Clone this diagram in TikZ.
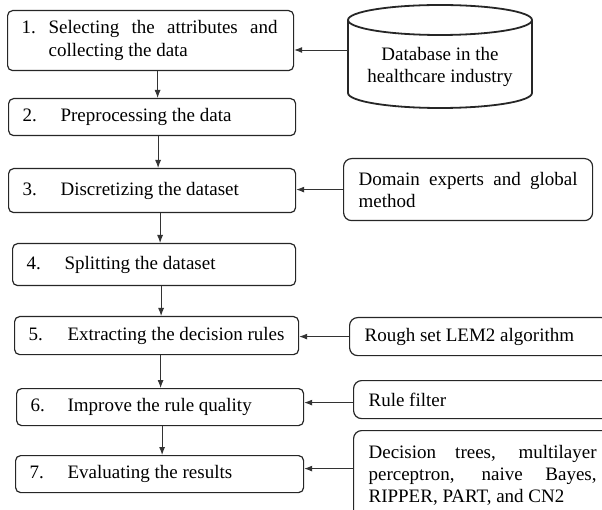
\documentclass[tikz,border=0pt]{standalone}
\usepackage{fontspec}
\setmainfont{Liberation Serif}
\usetikzlibrary{arrows.meta}

\begin{document}
\begin{tikzpicture}[x=1pt, y=-1pt,
  txt/.style={font=\fontsize{19}{22}\selectfont},
  stepbox/.style={txt, draw=black!85, line width=1.2pt, rounded corners=5pt,
    inner xsep=14pt, inner ysep=0pt, anchor=north west, align=justify},
  sidebox/.style={stepbox, rounded corners=8pt, inner xsep=15pt},
  arr/.style={draw=black!80, line width=0.9pt, -{Latex[length=8pt,width=6pt]}},
]
\clip (0,0) rectangle (602,510);

% process steps
\node[stepbox, text width=258pt, minimum width=286pt, minimum height=60pt] (b1) at (7,10)
  {\makebox[27pt][l]{1.}\parbox[t]{229pt}{\fontsize{19}{23}\selectfont
    Selecting the attributes and\linebreak collecting the data}};
\node[stepbox, text width=259pt, minimum width=287pt, minimum height=37pt] (b2) at (8,98)
  {\makebox[38pt][l]{2.}Preprocessing the data};
\node[stepbox, text width=259pt, minimum width=287pt, minimum height=44pt] (b3) at (8,168)
  {\makebox[38pt][l]{3.}Discretizing the dataset};
\node[stepbox, text width=255pt, minimum width=283pt, minimum height=42pt] (b4) at (12,243)
  {\makebox[38pt][l]{4.}Splitting the dataset};
\node[stepbox, text width=256pt, minimum width=284pt, minimum height=38pt] (b5) at (14,316)
  {\makebox[39pt][l]{5.}Extracting the decision rules};
\node[stepbox, text width=259pt, minimum width=287pt, minimum height=37pt] (b6) at (16,388)
  {\makebox[37pt][l]{6.}Improve the rule quality};
\node[stepbox, text width=260pt, minimum width=288pt, minimum height=37pt] (b7) at (15,455)
  {\makebox[38pt][l]{7.}Evaluating the results};

% database cylinder
\draw[black!85, line width=1.8pt]
  (440,20) ellipse [x radius=92pt, y radius=15pt]
  (348,20) -- (348,93) arc [start angle=180, end angle=360, x radius=92pt, y radius=15pt]
  -- (532,20);
\node[txt, align=center, minimum width=184pt] (db) at (440,67)
  {Database in the\\healthcare industry};

% inputs on the right
\node[sidebox, text width=219pt, minimum width=249pt, minimum height=62pt] (dom) at (343,158)
  {Domain experts and global method};
\node[sidebox, text width=230pt, minimum width=260pt, minimum height=38pt] (rough) at (349,317)
  {Rough set LEM2 algorithm};
\node[sidebox, text width=230pt, minimum width=260pt, minimum height=38pt] (rule) at (353,380)
  {Rule filter};
\node[sidebox, text width=228pt, minimum width=258pt, minimum height=90pt] (dec) at (353,430)
  {Decision trees, multilayer\linebreak perceptron, naive Bayes,\linebreak RIPPER, PART, and CN2};

% flow between steps
\draw[arr] ([xshift=7pt]b1.south) -- ([xshift=7pt]b1.south |- b2.north);
\draw[arr] ([xshift=6pt]b2.south) -- ([xshift=6pt]b2.south |- b3.north);
\draw[arr] ([xshift=8pt]b3.south) -- ([xshift=8pt]b3.south |- b4.north);
\draw[arr] ([xshift=7pt]b4.south) -- ([xshift=7pt]b4.south |- b5.north);
\draw[arr] ([xshift=4pt]b5.south) -- ([xshift=4pt]b5.south |- b6.north);
\draw[arr] ([xshift=2pt]b6.south) -- ([xshift=2pt]b6.south |- b7.north);

% inputs feeding the steps
\draw[arr] ([yshift=17pt]db.west) -- ([yshift=17pt]db.west -| b1.east);
\draw[arr] (dom.west) -- (dom.west -| b3.east);
\draw[arr] (rough.west) -- (rough.west -| b5.east);
\draw[arr] ([yshift=-3pt]rule.west) -- ([yshift=-3pt]rule.west -| b6.east);
\draw[arr] ([yshift=7pt]dec.west) -- ([yshift=7pt]dec.west -| b7.east);
\end{tikzpicture}
\end{document}
